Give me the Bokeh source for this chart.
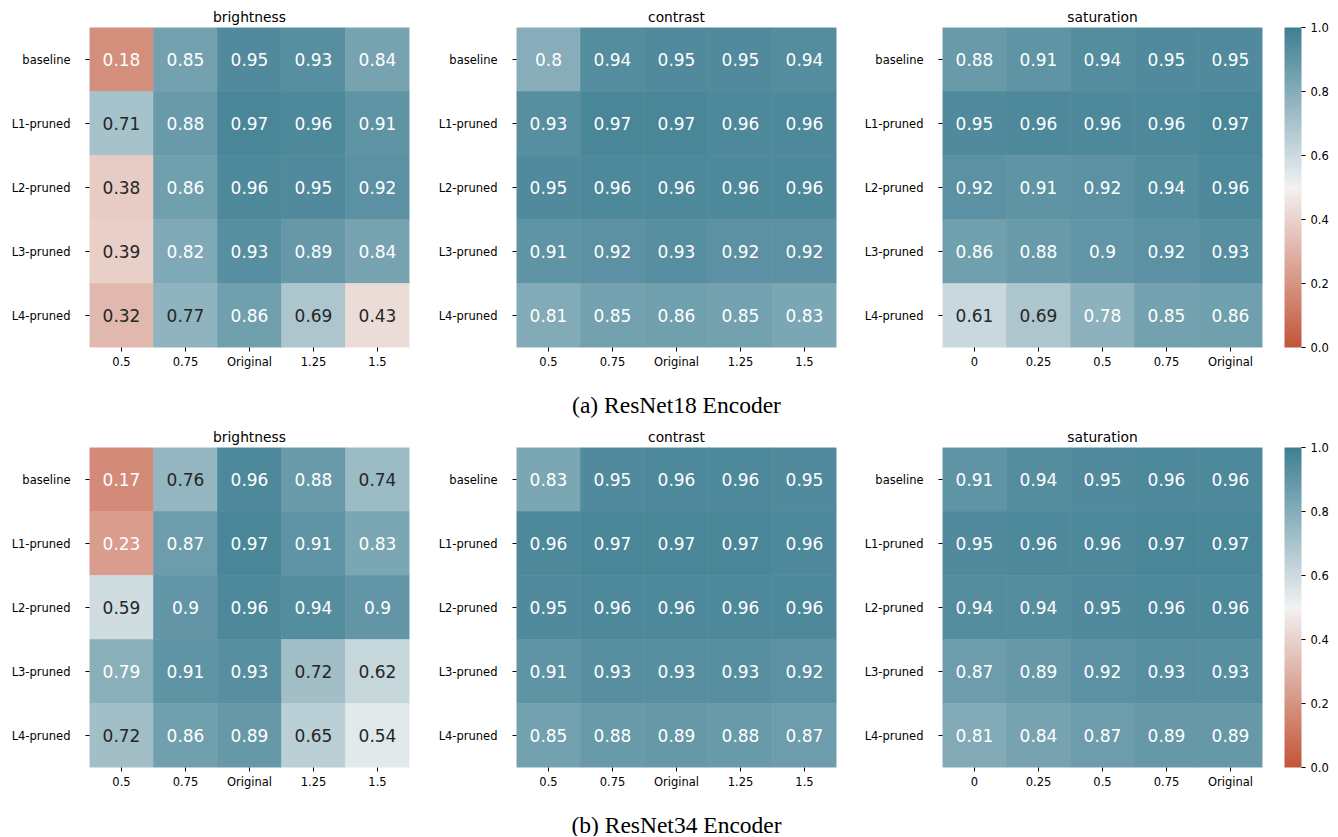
import math
import numpy as np
from bokeh.plotting import figure
from bokeh.layouts import row, column
from bokeh.models import (ColumnDataSource, LinearColorMapper, ColorBar, FixedTicker,
                          PrintfTickFormatter, Range1d)
from bokeh.embed import file_html
from bokeh.resources import INLINE
from bokeh.core.properties import value

# ---------------- data ----------------
row_labels = ["baseline", "L1-pruned", "L2-pruned", "L3-pruned", "L4-pruned"]
brightness_levels = ["0.5", "0.75", "Original", "1.25", "1.5"]
contrast_levels = ["0.5", "0.75", "Original", "1.25", "1.5"]
saturation_levels = ["0", "0.25", "0.5", "0.75", "Original"]
colorbar_ticks = [0.0, 0.2, 0.4, 0.6, 0.8, 1.0]
captions = ["(a) ResNet18 Encoder", "(b) ResNet34 Encoder"]

r18_brightness = [[0.18, 0.85, 0.95, 0.93, 0.84],
                  [0.71, 0.88, 0.97, 0.96, 0.91],
                  [0.38, 0.86, 0.96, 0.95, 0.92],
                  [0.39, 0.82, 0.93, 0.89, 0.84],
                  [0.32, 0.77, 0.86, 0.69, 0.43]]
r18_contrast = [[0.80, 0.94, 0.95, 0.95, 0.94],
                [0.93, 0.97, 0.97, 0.96, 0.96],
                [0.95, 0.96, 0.96, 0.96, 0.96],
                [0.91, 0.92, 0.93, 0.92, 0.92],
                [0.81, 0.85, 0.86, 0.85, 0.83]]
r18_saturation = [[0.88, 0.91, 0.94, 0.95, 0.95],
                  [0.95, 0.96, 0.96, 0.96, 0.97],
                  [0.92, 0.91, 0.92, 0.94, 0.96],
                  [0.86, 0.88, 0.90, 0.92, 0.93],
                  [0.61, 0.69, 0.78, 0.85, 0.86]]
r34_brightness = [[0.17, 0.76, 0.96, 0.88, 0.74],
                  [0.23, 0.87, 0.97, 0.91, 0.83],
                  [0.59, 0.90, 0.96, 0.94, 0.90],
                  [0.79, 0.91, 0.93, 0.72, 0.62],
                  [0.72, 0.86, 0.89, 0.65, 0.54]]
r34_contrast = [[0.83, 0.95, 0.96, 0.96, 0.95],
                [0.96, 0.97, 0.97, 0.97, 0.96],
                [0.95, 0.96, 0.96, 0.96, 0.96],
                [0.91, 0.93, 0.93, 0.93, 0.92],
                [0.85, 0.88, 0.89, 0.88, 0.87]]
r34_saturation = [[0.91, 0.94, 0.95, 0.96, 0.96],
                  [0.95, 0.96, 0.96, 0.97, 0.97],
                  [0.94, 0.94, 0.95, 0.96, 0.96],
                  [0.87, 0.89, 0.92, 0.93, 0.93],
                  [0.81, 0.84, 0.87, 0.89, 0.89]]

# ---------------- colormap (seaborn diverging_palette(20, 220)) ----------------
M = [[3.2406, -1.5372, -0.4986],
     [-0.9689, 1.8758, 0.0415],
     [0.0557, -0.2040, 1.0570]]
REF_U, REF_V = 0.19784, 0.46834


def max_chroma(L, H):
    hrad = math.radians(H)
    sinH, cosH = math.sin(hrad), math.cos(hrad)
    sub1 = (L + 16) ** 3 / 1560896.0
    sub2 = sub1 if sub1 > 0.008856 else L / 903.3
    result = float("inf")
    for m1, m2, m3 in M:
        top = (0.99915 * m1 + 1.05122 * m2 + 1.14460 * m3) * sub2
        rbottom = 0.86330 * m3 - 0.17266 * m2
        lbottom = 0.12949 * m3 - 0.38848 * m1
        bottom = (rbottom * sinH + lbottom * cosH) * sub2
        for t in (0.0, 1.0):
            C = L * (top - 1.05122 * t) / (bottom + 0.17266 * sinH * t)
            if 0.0 < C < result:
                result = C
    return result


def husl_to_rgb(h, s, l):
    C = max_chroma(l, h) / 100.0 * s
    hrad = math.radians(h)
    U, V = math.cos(hrad) * C, math.sin(hrad) * C
    t = (l + 16.0) / 116.0
    Y = t ** 3 if t ** 3 > 0.008856 else (116.0 * t - 16.0) / 903.3
    varU = U / (13.0 * l) + REF_U
    varV = V / (13.0 * l) + REF_V
    X = -(9.0 * Y * varU) / ((varU - 4.0) * varV - varU * varV)
    Z = (9.0 * Y - 15.0 * varV * Y - varV * X) / (3.0 * varV)
    out = []
    for r in M:
        c = r[0] * X + r[1] * Y + r[2] * Z
        c = 12.92 * c if c <= 0.0031308 else 1.055 * c ** (1 / 2.4) - 0.055
        out.append(min(max(c, 0.0), 1.0))
    return np.array(out)


neg_end = husl_to_rgb(20, 75, 50)
neg_gray = husl_to_rgb(20, 75 * 0.15, 95)
pos_end = husl_to_rgb(220, 75, 50)
pos_gray = husl_to_rgb(220, 75 * 0.15, 95)
mid = np.array([0.95, 0.95, 0.95])
n_half = 127
neg = [neg_end + (neg_gray - neg_end) * k / (n_half - 1) for k in range(n_half)]
pos = [pos_gray + (pos_end - pos_gray) * k / (n_half - 1) for k in range(n_half)]
nodes = np.array(neg + [mid] + pos)
xs_nodes = np.linspace(0, 1, len(nodes))
xs = np.linspace(0, 1, 256)
pal_rgb = np.stack([np.interp(xs, xs_nodes, nodes[:, c]) for c in range(3)], axis=1)
palette = ["#%02x%02x%02x" % tuple(int(round(v * 255)) for v in c) for c in pal_rgb]


def luminance(v):
    idx = min(max(int(v * 256), 0), 255)
    rgb = pal_rgb[idx]
    lin = [c / 12.92 if c <= 0.03928 else ((c + 0.055) / 1.055) ** 2.4 for c in rgb]
    return 0.2126 * lin[0] + 0.7152 * lin[1] + 0.0722 * lin[2]


# light/dark annotation switch placed between the 0.77 and 0.78 shades
LUM_THRESHOLD = 0.5 * (luminance(0.77) + luminance(0.78))


def text_color_for(v):
    return "#262626" if luminance(v) > LUM_THRESHOLD else "#ffffff"


mapper = LinearColorMapper(palette=palette, low=0.0, high=1.0)

FONT = "DejaVu Sans"
TICK_SIZE = "11.5px"
TOP = 27
BOTTOM = 25
FRAME = 320
BORDERS = [(89, 10), (97, 10), (96, 68)]
TOTAL_W = sum(l + FRAME + r for l, r in BORDERS)
MID_CENTER = BORDERS[0][0] + FRAME + BORDERS[0][1] + BORDERS[1][0] + FRAME / 2


def heatmap(vals, xlabels, title, min_left, min_right, colorbar=False):
    xs_, ys_, vs_, ts_, cs_ = [], [], [], [], []
    for i, rl in enumerate(row_labels):
        for j, cl in enumerate(xlabels):
            v = vals[i][j]
            xs_.append(cl)
            ys_.append(rl)
            vs_.append(v)
            ts_.append("{:.2g}".format(v))
            cs_.append(text_color_for(v))
    src = ColumnDataSource(dict(x=xs_, y=ys_, v=vs_, t=ts_, c=cs_))
    p = figure(x_range=xlabels, y_range=list(reversed(row_labels)),
               frame_width=FRAME, frame_height=FRAME,
               min_border_left=min_left, min_border_right=min_right,
               min_border_top=TOP, min_border_bottom=BOTTOM,
               output_backend="svg", toolbar_location=None, tools="")
    p.rect(x="x", y="y", width=1, height=1, source=src,
           fill_color={"field": "v", "transform": mapper},
           line_color={"field": "v", "transform": mapper}, line_width=0.6)
    p.text(x="x", y="y", text="t", text_color="c", source=src,
           text_align="center", text_baseline="middle",
           text_font=value(FONT), text_font_size="17px")
    p.title.text = title
    p.title.align = "center"
    p.title.text_font = FONT
    p.title.text_font_size = "13.8px"
    p.title.text_font_style = "normal"
    p.title.text_color = "#000000"
    p.title.standoff = 6
    p.outline_line_color = None
    p.grid.grid_line_color = None
    for ax in (p.xaxis[0], p.yaxis[0]):
        ax.axis_line_color = None
        ax.major_tick_in = 0
        ax.major_tick_out = 4
        ax.major_tick_line_color = "#000000"
        ax.major_label_text_font = FONT
        ax.major_label_text_font_size = TICK_SIZE
        ax.major_label_text_color = "#000000"
    p.xaxis.major_label_standoff = 3
    p.yaxis.major_label_standoff = 15
    if colorbar:
        cb = ColorBar(color_mapper=mapper, ticker=FixedTicker(ticks=colorbar_ticks),
                      formatter=PrintfTickFormatter(format="%.1f"),
                      width=17, height=FRAME, padding=0, margin=0, location=(22, 0),
                      major_tick_in=0, major_tick_out=4,
                      major_tick_line_color="#000000", label_standoff=5,
                      major_label_text_font=FONT, major_label_text_font_size=TICK_SIZE,
                      major_label_text_color="#000000",
                      bar_line_color=None, border_line_color=None,
                      background_fill_alpha=0)
        p.add_layout(cb, "right")
    return p


def caption_strip(text, height, center_from_top=32):
    c = figure(width=TOTAL_W, height=height, x_range=Range1d(0, TOTAL_W),
               y_range=Range1d(height, 0), min_border=0,
               x_axis_location=None, y_axis_location=None,
               output_backend="svg", toolbar_location=None, tools="")
    c.outline_line_color = None
    c.grid.grid_line_color = None
    c.text(x=[MID_CENTER], y=[center_from_top], text=[text],
           text_align="center", text_baseline="middle",
           text_font=value("Liberation Serif"), text_font_size="23.5px",
           text_color="#000000")
    return c


def make_row(b, c, s):
    p1 = heatmap(b, brightness_levels, "brightness", *BORDERS[0])
    p2 = heatmap(c, contrast_levels, "contrast", *BORDERS[1])
    p3 = heatmap(s, saturation_levels, "saturation", *BORDERS[2], colorbar=True)
    return row(p1, p2, p3, spacing=0)


row1 = make_row(r18_brightness, r18_contrast, r18_saturation)
cap1 = caption_strip(captions[0], 48)
row2 = make_row(r34_brightness, r34_contrast, r34_saturation)
cap2 = caption_strip(captions[1], 44)
layout = column(row1, cap1, row2, cap2, spacing=0)

open("out.html", "w").write(file_html(layout, INLINE))
